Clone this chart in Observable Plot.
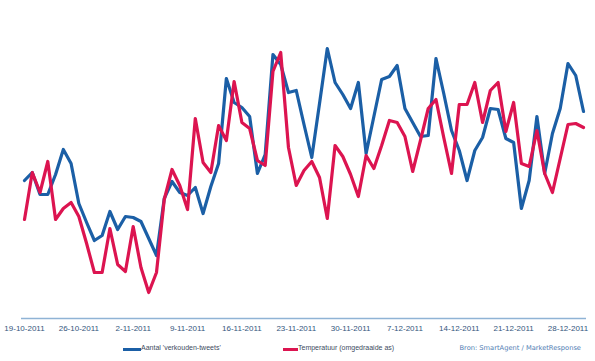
<!DOCTYPE html>
<html>
<head>
<meta charset="utf-8">
<script src="https://cdn.jsdelivr.net/npm/d3@7"></script>
<script src="https://cdn.jsdelivr.net/npm/@observablehq/plot@0.6"></script>
<style>
  html, body { margin: 0; padding: 0; background: #fff; }
  #wrap { width: 595px; height: 361px; position: relative; overflow: hidden; }
  #legend { position: absolute; left: 0; top: 340px; width: 595px; height: 21px; font-family: "Liberation Sans", Arial, sans-serif; }
  .sw { position: absolute; top: 8px; height: 2.5px; }
  .lt { position: absolute; top: 4px; font-size: 7px; color: #3d4b60; white-space: nowrap; }
  .src { position: absolute; top: 4px; right: 14px; font-family: "DejaVu Sans", sans-serif; font-size: 6.7px; color: #4f7db3; white-space: nowrap; }
</style>
</head>
<body>
<div id="wrap"><div id="chart"></div>
<div id="legend">
  <div class="sw" style="left:123px;width:18px;background:#1b5fa6"></div>
  <div class="lt" style="left:141px">Aantal 'verkouden-tweets'</div>
  <div class="sw" style="left:283px;width:15px;background:#dc1450"></div>
  <div class="lt" style="left:298px">Temperatuur (omgedraaide as)</div>
  <div class="src">Bron: SmartAgent / MarketResponse</div>
</div>
</div>
<script>
// First day of the daily series
const startDate = "2011-10-19";
// Aantal 'verkouden-tweets' (relative index)
const tweets = [138,146,124,124,144,169,155,115,96,78,83,107,89,102,101,97,80,63,120,137,126,123,131,105,132,155,240,216,211,202,145,164,264,254,226,228,194,161,215,270,236,224,210,236,165,202,239,242,253,210,196,182,183,260,225,188,168,138,168,181,210,209,180,176,110,138,202,145,185,210,255,243,207];
// Temperatuur (omgedraaide as) (relative index, inverted axis)
const temperature = [99,146,126,157,99,110,116,102,75,46,46,90,54,47,92,51,26,46,119,149,133,109,200,156,146,193,178,237,196,190,158,153,247,266,171,133,148,157,141,100,173,162,144,122,163,150,173,198,196,182,147,178,210,219,181,145,214,214,236,196,228,236,187,216,155,152,188,145,126,160,194,195,191];
// x-axis tick labels
const tickLabels = ["19-10-2011","26-10-2011","2-11-2011","9-11-2011","16-11-2011","23-11-2011","30-11-2011","7-12-2011","14-12-2011","21-12-2011","28-12-2011"];

const t0 = new Date(startDate + "T00:00:00Z");
const dayMs = 86400000;
const dateOf = i => new Date(t0.getTime() + i * dayMs);
const parseLabel = s => { const [d, m, y] = s.split("-").map(Number); return new Date(Date.UTC(y, m - 1, d)); };
const fmt = d => `${d.getUTCDate()}-${d.getUTCMonth() + 1}-${d.getUTCFullYear()}`;

const blueData = tweets.map((v, i) => ({date: dateOf(i), value: v}));
const redData = temperature.map((v, i) => ({date: dateOf(i), value: v}));

const chart = Plot.plot({
  width: 595,
  height: 340,
  marginLeft: 21,
  marginRight: 9,
  marginTop: 18,
  marginBottom: 22,
  style: {background: "#fff", fontFamily: "Liberation Sans, Arial, sans-serif"},
  x: {type: "utc", domain: [dateOf(0), dateOf(tweets.length - 1)], insetLeft: 3, insetRight: 3},
  y: {domain: [0, 300], axis: null},
  marks: [
    Plot.ruleY([0], {stroke: "#8fb3d5", strokeWidth: 1.6}),
    Plot.axisX(tickLabels.map(parseLabel), {tickSize: 0, tickPadding: 7, tickFormat: fmt, fontSize: 8, fill: "#34557c", label: null}),
    Plot.line(blueData, {x: "date", y: "value", stroke: "#1b5fa6", strokeWidth: 3.2, strokeLinejoin: "round", strokeLinecap: "round"}),
    Plot.line(redData, {x: "date", y: "value", stroke: "#dc1450", strokeWidth: 3.2, strokeLinejoin: "round", strokeLinecap: "round"})
  ]
});
document.getElementById("chart").appendChild(chart);
</script>
</body>
</html>
